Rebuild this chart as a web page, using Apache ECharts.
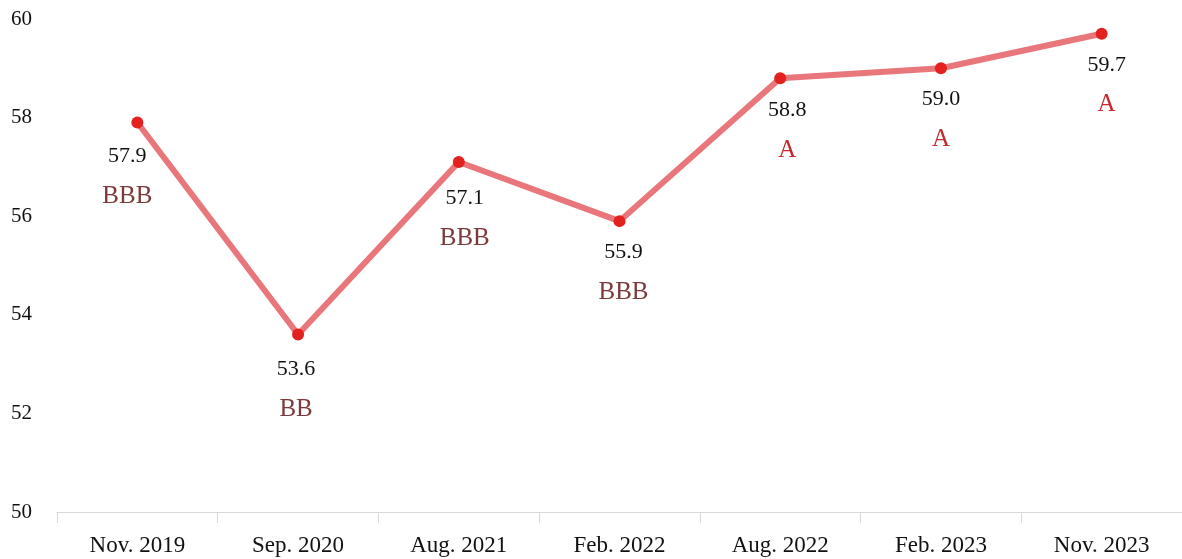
<!DOCTYPE html>
<html>
<head>
<meta charset="utf-8">
<script src="https://cdn.jsdelivr.net/npm/echarts@6/dist/echarts.min.js"></script>
<style>html,body{margin:0;padding:0;background:#fff}#c{width:1182px;height:559px}</style>
</head>
<body>
<div id="c"></div>
<script>
const categories = ['Nov. 2019','Sep. 2020','Aug. 2021','Feb. 2022','Aug. 2022','Feb. 2023','Nov. 2023'];
const scores = [57.9, 53.6, 57.1, 55.9, 58.8, 59.0, 59.7];
const grades = ['BBB','BB','BBB','BBB','A','A','A'];
const yTicks = [50, 52, 54, 56, 58, 60];

/* styling: small label nudges per point, as in the original layout */
const FONT = '"Liberation Serif", "Times New Roman", serif';
const labelNudge = [[-10, 2], [-2, 3], [6, 4], [4, -1], [7, 0], [0, -1], [5, -1]];

const data = scores.map((v, i) => ({
  value: v,
  label: {
    offset: labelNudge[i],
    formatter: '{v|' + v.toFixed(1) + '}\n{' + (grades[i] === 'A' ? 'a' : 'b') + '|' + grades[i] + '}'
  }
}));

const chart = echarts.init(document.getElementById('c'), null, {renderer: 'canvas'});
chart.setOption({
  animation: false,
  grid: {left: 57, right: -5, top: 19, bottom: 47},
  xAxis: {
    type: 'category',
    data: categories,
    boundaryGap: true,
    axisLine: {show: true, lineStyle: {color: '#d9d9d9', width: 1}},
    axisTick: {show: true, length: 11, lineStyle: {color: '#d9d9d9'}},
    axisLabel: {color: '#111', fontFamily: FONT, fontSize: 23, margin: 22}
  },
  yAxis: {
    type: 'value',
    min: yTicks[0],
    max: yTicks[yTicks.length - 1],
    interval: 2,
    axisLine: {show: false},
    axisTick: {show: false},
    splitLine: {show: false},
    axisLabel: {color: '#111', fontFamily: FONT, fontSize: 21, margin: 25}
  },
  series: [{
    type: 'line',
    data: data,
    symbol: 'circle',
    symbolSize: 12,
    itemStyle: {color: '#e3211f'},
    lineStyle: {color: '#e8767a', width: 6},
    z: 3,
    label: {
      show: true,
      position: 'bottom',
      distance: 6,
      fontFamily: FONT,
      rich: {
        v: {fontFamily: FONT, fontSize: 22, color: '#111', lineHeight: 40},
        b: {fontFamily: FONT, fontSize: 25, color: '#7e3a3b', lineHeight: 40},
        a: {fontFamily: FONT, fontSize: 25, color: '#c42a2c', lineHeight: 40}
      }
    }
  }]
});
</script>
</body>
</html>
